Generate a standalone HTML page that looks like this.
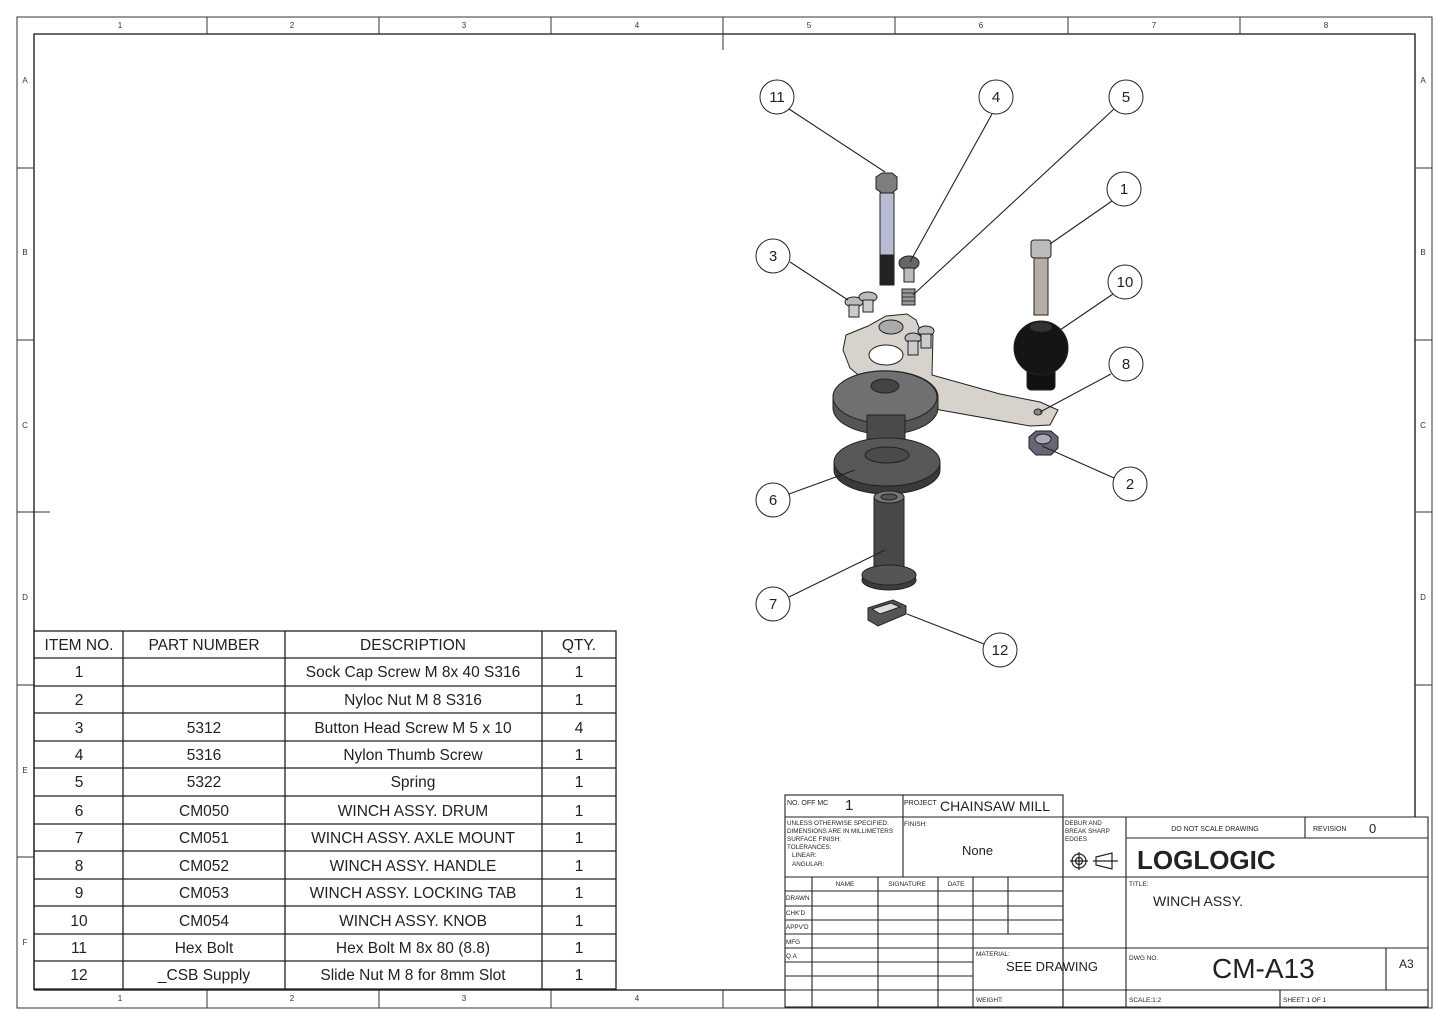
<!DOCTYPE html>
<html><head><meta charset="utf-8"><style>
html,body{margin:0;padding:0;background:#fff;}
svg{display:block;font-family:"Liberation Sans",sans-serif;}
</style></head><body>
<svg width="1448" height="1024" viewBox="0 0 1448 1024" xmlns="http://www.w3.org/2000/svg">
<rect x="0" y="0" width="1448" height="1024" fill="#fff"/>
<rect x="17" y="17" width="1415" height="991" fill="none" stroke="#333" stroke-width="1"/>
<g stroke="#111" stroke-width="1.3" fill="none">
<path d="M34 990 V34 H1415 V817"/>
<path d="M34 990 H785"/>
</g>
<g stroke="#333" stroke-width="1">
<path d="M207 17V34M379 17V34M551 17V34M723 17V50M895 17V34M1068 17V34M1240 17V34"/>
<path d="M207 990V1008M379 990V1008M551 990V1008M723 990V1008"/>
<path d="M17 168H34M17 340H34M17 512H50M17 685H34M17 857H34"/>
<path d="M1415 168H1432M1415 340H1432M1415 512H1432M1415 685H1432"/>
</g>
<g font-size="8" fill="#333" text-anchor="middle">
<text x="120" y="28">1</text><text x="292" y="28">2</text><text x="464" y="28">3</text><text x="637" y="28">4</text><text x="809" y="28">5</text><text x="981" y="28">6</text><text x="1154" y="28">7</text><text x="1326" y="28">8</text>
<text x="120" y="1001">1</text><text x="292" y="1001">2</text><text x="464" y="1001">3</text><text x="637" y="1001">4</text>
<text x="25" y="83">A</text><text x="25" y="255">B</text><text x="25" y="428">C</text><text x="25" y="600">D</text><text x="25" y="773">E</text><text x="25" y="945">F</text>
<text x="1423" y="83">A</text><text x="1423" y="255">B</text><text x="1423" y="428">C</text><text x="1423" y="600">D</text>
</g>

<g stroke="#222" stroke-width="1.3" fill="none">
<rect x="34" y="631" width="582" height="358"/>
<path d="M123 631V989M285 631V989M542 631V989"/>
<path d="M34 658H616M34 686H616M34 713H616M34 741H616M34 768H616M34 796H616M34 824H616M34 851H616M34 879H616M34 906H616M34 934H616M34 961H616"/>
</g>
<g font-size="15.5" fill="#222" text-anchor="middle">
<text x="79" y="650">ITEM NO.</text><text x="204" y="650">PART NUMBER</text><text x="413" y="650">DESCRIPTION</text><text x="579" y="650">QTY.</text>
<text x="79" y="677">1</text><text x="413" y="677">Sock Cap Screw M 8x 40 S316</text><text x="579" y="677">1</text>
<text x="79" y="705">2</text><text x="413" y="705">Nyloc Nut M 8 S316</text><text x="579" y="705">1</text>
<text x="79" y="733">3</text><text x="204" y="733">5312</text><text x="413" y="733">Button Head Screw M 5 x 10</text><text x="579" y="733">4</text>
<text x="79" y="760">4</text><text x="204" y="760">5316</text><text x="413" y="760">Nylon Thumb Screw</text><text x="579" y="760">1</text>
<text x="79" y="787">5</text><text x="204" y="787">5322</text><text x="413" y="787">Spring</text><text x="579" y="787">1</text>
<text x="79" y="816">6</text><text x="204" y="816">CM050</text><text x="413" y="816">WINCH ASSY. DRUM</text><text x="579" y="816">1</text>
<text x="79" y="843">7</text><text x="204" y="843">CM051</text><text x="413" y="843">WINCH ASSY. AXLE MOUNT</text><text x="579" y="843">1</text>
<text x="79" y="871">8</text><text x="204" y="871">CM052</text><text x="413" y="871">WINCH ASSY. HANDLE</text><text x="579" y="871">1</text>
<text x="79" y="898">9</text><text x="204" y="898">CM053</text><text x="413" y="898">WINCH ASSY. LOCKING TAB</text><text x="579" y="898">1</text>
<text x="79" y="926">10</text><text x="204" y="926">CM054</text><text x="413" y="926">WINCH ASSY. KNOB</text><text x="579" y="926">1</text>
<text x="79" y="953">11</text><text x="204" y="953">Hex Bolt</text><text x="413" y="953">Hex Bolt M 8x 80 (8.8)</text><text x="579" y="953">1</text>
<text x="79" y="980">12</text><text x="204" y="980">_CSB Supply</text><text x="413" y="980">Slide Nut M 8 for 8mm Slot</text><text x="579" y="980">1</text>
</g>

<g stroke="#222" stroke-width="1.1" fill="none">
<rect x="785" y="795" width="278" height="212"/>
<path d="M785 817H1428V1007H1063"/>
<path d="M903 795V877M1063 817V1007M1126 817V1007"/>
<path d="M785 877H1428M1126 838H1428M1305 817V838"/>
<path d="M785 891H1063M785 906H1063M785 920H1063M785 934H1063M785 948H1428M785 962H973M785 976H973M785 990H1428"/>
<path d="M812 877V1007M878 877V1007M938 877V1007M973 877V1007M1008 877V934"/>
<path d="M1386 948V990M1280 990V1007"/>
</g>
<g fill="#222">
<text x="787" y="805" font-size="7">NO. OFF MC</text>
<text x="845" y="810" font-size="15">1</text>
<text x="904" y="805" font-size="7">PROJECT</text>
<text x="940" y="811" font-size="14">CHAINSAW MILL</text>
<text font-size="6.3"><tspan x="787" y="825">UNLESS OTHERWISE SPECIFIED:</tspan><tspan x="787" y="833">DIMENSIONS ARE IN MILLIMETERS</tspan><tspan x="787" y="841">SURFACE FINISH:</tspan><tspan x="787" y="849">TOLERANCES:</tspan><tspan x="792" y="857">LINEAR:</tspan><tspan x="792" y="866">ANGULAR:</tspan></text>
<text x="904" y="826" font-size="6.5">FINISH:</text>
<text x="962" y="855" font-size="13">None</text>
<text font-size="6.3"><tspan x="1065" y="825">DEBUR AND</tspan><tspan x="1065" y="833">BREAK SHARP</tspan><tspan x="1065" y="841">EDGES</tspan></text>
<text x="1215" y="831" font-size="7" text-anchor="middle">DO NOT SCALE DRAWING</text>
<text x="1313" y="831" font-size="7">REVISION</text>
<text x="1369" y="833" font-size="13">0</text>
<text x="1137" y="869" font-size="26" font-weight="bold">LOGLOGIC</text>
<text font-size="6.5" text-anchor="middle"><tspan x="845" y="886">NAME</tspan><tspan x="907" y="886">SIGNATURE</tspan><tspan x="956" y="886">DATE</tspan></text>
<text font-size="6.3"><tspan x="786" y="900">DRAWN</tspan><tspan x="786" y="915">CHK'D</tspan><tspan x="786" y="929">APPV'D</tspan><tspan x="786" y="944">MFG</tspan><tspan x="786" y="958">Q.A</tspan></text>
<text x="976" y="956" font-size="6.5">MATERIAL:</text>
<text x="1006" y="971" font-size="13">SEE DRAWING</text>
<text x="976" y="1002" font-size="6.5">WEIGHT:</text>
<text x="1129" y="886" font-size="6.5">TITLE:</text>
<text x="1153" y="906" font-size="14">WINCH ASSY.</text>
<text x="1129" y="960" font-size="6.5">DWG NO.</text>
<text x="1212" y="978" font-size="28">CM-A13</text>
<text x="1399" y="968" font-size="12">A3</text>
<text x="1129" y="1002" font-size="6.5">SCALE:1:2</text>
<text x="1283" y="1002" font-size="6.5">SHEET 1 OF 1</text>
</g>
<g stroke="#222" stroke-width="1.2" fill="none">
<circle cx="1079" cy="861" r="7"/><circle cx="1079" cy="861" r="3.5"/><path d="M1070 861H1088M1079 852V870"/>
<path d="M1096 857L1112 853V869L1096 865ZM1093 861H1118"/>
</g>

<g stroke="#222" stroke-width="1">
<path d="M876 177L882 173H892L897 177V189L892 193H882L876 189Z" fill="#7e7e7e"/>
<rect x="880" y="193" width="14" height="62" fill="#b9bdd4"/>
<rect x="880" y="255" width="14" height="30" fill="#222"/>
<ellipse cx="909" cy="263" rx="10" ry="7" fill="#666"/>
<rect x="904" y="268" width="10" height="14" fill="#bbb"/>
<rect x="902" y="289" width="13" height="16" fill="#999"/>
<path d="M902 293H915M902 297H915M902 301H915" stroke="#333"/>
<ellipse cx="854" cy="302" rx="9" ry="5" fill="#bbb"/><rect x="849" y="305" width="10" height="12" fill="#ccc"/>
<ellipse cx="868" cy="297" rx="9" ry="5" fill="#bbb"/><rect x="863" y="300" width="10" height="12" fill="#ccc"/>
<path d="M846 335L868 326L886 316L907 314L916 320L920 330L933 335L932 375L1000 394L1040 402L1058 410L1050 425L1030 426L940 410L905 395L870 385L850 368L843 350Z" fill="#d8d2cc"/>
<ellipse cx="886" cy="355" rx="17" ry="10" fill="#fff"/>
<ellipse cx="891" cy="327" rx="12" ry="7" fill="#aaa"/>
<ellipse cx="1038" cy="412" rx="4" ry="3" fill="#888"/>
<ellipse cx="913" cy="338" rx="8" ry="5" fill="#bbb"/><rect x="908" y="341" width="10" height="14" fill="#ccc"/>
<ellipse cx="926" cy="331" rx="8" ry="5" fill="#bbb"/><rect x="921" y="334" width="10" height="14" fill="#ccc"/>
<path d="M833 397 A52 26 0 0 1 938 397 V408 A52 26 0 0 1 833 408Z" fill="#555"/>
<ellipse cx="885" cy="397" rx="52" ry="26" fill="#707070"/>
<ellipse cx="885" cy="386" rx="14" ry="7" fill="#444"/>
<rect x="867" y="415" width="38" height="45" fill="#4a4a4a"/>
<path d="M834 462 A53 24 0 0 0 940 462 V470 A53 24 0 0 1 834 470Z" fill="#3a3a3a"/>
<ellipse cx="887" cy="462" rx="53" ry="24" fill="#585858"/>
<ellipse cx="887" cy="455" rx="22" ry="8" fill="#4a4a4a"/>
<rect x="874" y="497" width="30" height="75" fill="#484848"/>
<ellipse cx="889" cy="497" rx="15" ry="6" fill="#777"/>
<ellipse cx="889" cy="497" rx="8" ry="3" fill="#555"/>
<ellipse cx="889" cy="580" rx="27" ry="10" fill="#3c3c3c"/>
<ellipse cx="889" cy="575" rx="27" ry="10" fill="#555"/>
<path d="M868 608L893 600L906 606L906 614L878 626L868 620Z" fill="#555"/>
<path d="M872 609L891 603L900 607L880 614Z" fill="#ddd"/>
<rect x="1031" y="240" width="20" height="18" rx="3" fill="#bbb"/>
<rect x="1034" y="258" width="14" height="57" fill="#b4ada8"/>
<rect x="1027" y="360" width="28" height="30" rx="4" fill="#111"/>
<circle cx="1041" cy="348" r="27" fill="#151515"/>
<ellipse cx="1041" cy="327" rx="11" ry="5" fill="#333"/>
<path d="M1029 437L1036 431H1051L1058 437V448L1051 455H1036L1029 448Z" fill="#667"/>
<ellipse cx="1043" cy="439" rx="8" ry="5" fill="#aab"/>
</g>

<g stroke="#222" stroke-width="1.1" fill="none">
<path d="M789 109L885 172M992 114L910 262M1114 109L913 295M1112 201L1050 244M790 262L848 300M1113 294L1060 330M1111 374L1040 412M1114 478L1042 446M789 494L855 470M789 597L885 550M984 644L907 614"/>
</g>
<g fill="#fff" stroke="#222" stroke-width="1">
<circle cx="777" cy="97" r="17"/><circle cx="996" cy="97" r="17"/><circle cx="1126" cy="97" r="17"/><circle cx="1124" cy="189" r="17"/><circle cx="773" cy="256" r="17"/><circle cx="1125" cy="282" r="17"/><circle cx="1126" cy="364" r="17"/><circle cx="1130" cy="484" r="17"/><circle cx="773" cy="500" r="17"/><circle cx="773" cy="604" r="17"/><circle cx="1000" cy="650" r="17"/>
</g>
<g font-size="15" fill="#222" text-anchor="middle">
<text x="777" y="102">11</text><text x="996" y="102">4</text><text x="1126" y="102">5</text><text x="1124" y="194">1</text><text x="773" y="261">3</text><text x="1125" y="287">10</text><text x="1126" y="369">8</text><text x="1130" y="489">2</text><text x="773" y="505">6</text><text x="773" y="609">7</text><text x="1000" y="655">12</text>
</g>
</svg>
</body></html>
